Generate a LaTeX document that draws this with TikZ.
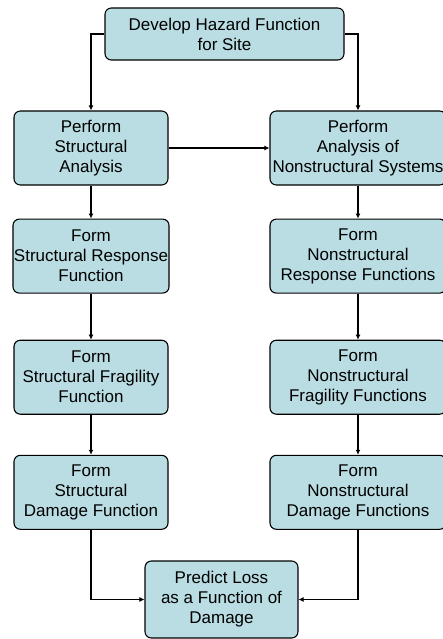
\documentclass[tikz,border=0pt]{standalone}
\usepackage{fontspec}
\setmainfont{Liberation Sans}
\usetikzlibrary{positioning}
\usetikzlibrary{arrows.meta}
\definecolor{boxfill}{RGB}{185,221,226}
\tikzstyle{line} = [draw, line width=1.6pt, -{Latex[length=5pt,width=5pt]}]

\begin{document}
\begin{tikzpicture}[x=1pt, y=-1pt,
				internal/.style={draw, fill=boxfill, rectangle, rounded corners=1.2ex, line width=1.1pt, inner sep=1pt, font=\fontsize{17}{20}\selectfont},
				leftbox/.style={internal, minimum width=154pt, minimum height=74pt},
				rightbox/.style={internal, minimum width=176pt, minimum height=74pt},
				every text node part/.style={align=center}]
				\useasboundingbox (0, 0) rectangle (442, 639);
				\node[internal, minimum width=239pt, minimum height=52pt](hazard) at (224.5, 34) {Develop Hazard Function\\for Site};
				
				\node[leftbox](sanalysis) at (91, 148) {Perform\\Structural\\Analysis};
				\node[rightbox](nanalysis) at (358, 148) {Perform\\Analysis of\\Nonstructural Systems};
				
				\node[leftbox, below=33pt of sanalysis](sresponse) {Form\\Structural Response\\Function};
				\node[rightbox, below=33pt of nanalysis](nresponse) {Form\\Nonstructural\\Response Functions};
				
				\node[leftbox, below=46pt of sresponse](sfragility) {Form\\Structural Fragility\\Function};
				\node[rightbox, below=46pt of nresponse](nfragility) {Form\\Nonstructural\\Fragility Functions};
				
				\node[leftbox, below=40pt of sfragility](sdamage) {Form\\Structural\\Damage Function};
				\node[rightbox, below=40pt of nfragility](ndamage) {Form\\Nonstructural\\Damage Functions};
				
				\node[internal, minimum width=153pt, minimum height=77pt](loss) at (221.5, 599.5) {Predict Loss\\as a Function of\\Damage};
				
				\draw [line] (hazard.west) -| (sanalysis);
				\draw [line] (hazard.east) -| (nanalysis);
				\draw [line] (sanalysis) -- (nanalysis);
				\draw [line] (sanalysis) -- (sresponse);
				\draw [line] (sresponse) -- (sfragility);
				\draw [line] (sfragility) -- (sdamage);
				\draw [line] (nanalysis) -- (nresponse);
				\draw [line] (nresponse) -- (nfragility);
				\draw [line] (nfragility) -- (ndamage);
				\draw [line] (sdamage) |- (loss);
				\draw [line] (ndamage) |- (loss);
				
			\end{tikzpicture}
\end{document}
